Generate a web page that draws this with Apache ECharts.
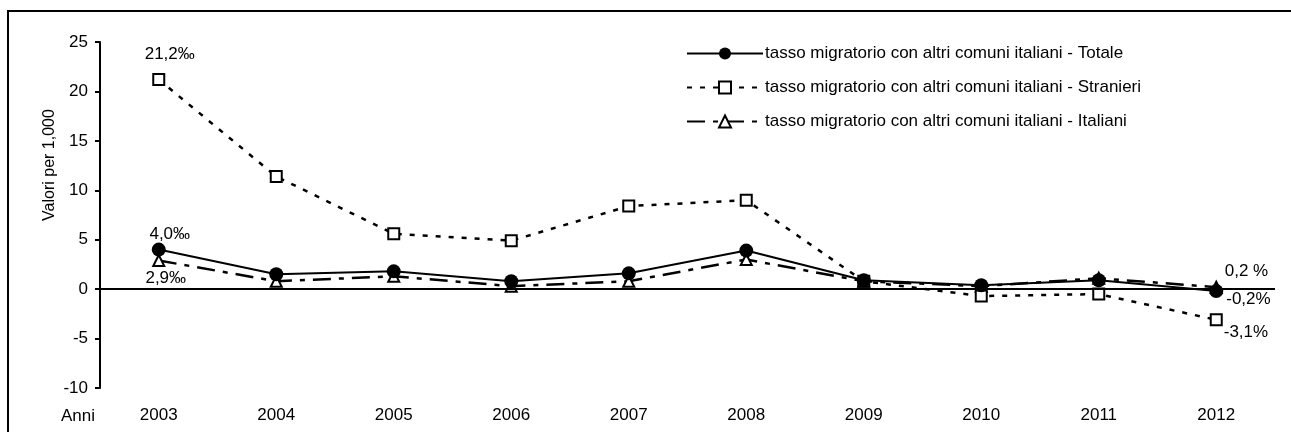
<!DOCTYPE html>
<html>
<head>
<meta charset="utf-8">
<script src="https://cdn.jsdelivr.net/npm/echarts@6/dist/echarts.min.js"></script>
<style>
html,body{margin:0;padding:0;background:#fff;}
#c{width:1291px;height:432px;}
</style>
</head>
<body>
<div id="c"></div>
<script>
// ---- data ----
const years = ['2003','2004','2005','2006','2007','2008','2009','2010','2011','2012'];
const totale    = [4.0, 1.5, 1.8, 0.8, 1.6, 3.9, 0.9, 0.4, 0.9, -0.2];
const stranieri = [21.2, 11.4, 5.6, 4.9, 8.4, 9.0, 0.8, -0.7, -0.5, -3.1];
const italiani  = [2.9, 0.8, 1.3, 0.3, 0.8, 3.0, 0.8, 0.3, 1.1, 0.2];
const seriesNames = [
  'tasso migratorio con altri comuni italiani - Totale',
  'tasso migratorio con altri comuni italiani - Stranieri',
  'tasso migratorio con altri comuni italiani - Italiani'
];
const totaleLabels    = ['4,0‰', '-0,2%'];
const stranieriLabels = ['21,2‰', '-3,1%'];
const italianiLabels  = ['2,9‰', '0,2 %'];
const yMin = -10, yMax = 25, yStep = 5;
const yAxisTitle = 'Valori per 1,000';
const xAxisTitle = 'Anni';

// ---- chart ----
const FONT = "'Liberation Sans', Arial, sans-serif";
const FS = 17;
const last = years.length - 1;

function withLabels(values, specs) {
  return values.map((v, i) => {
    const s = specs.find(p => p.i === i);
    if (!s) return v;
    return { value: v, label: Object.assign({ show: true, color: '#000', fontFamily: FONT, fontSize: FS, formatter: s.text }, s.opts) };
  });
}

const chart = echarts.init(document.getElementById('c'), null, { renderer: 'canvas' });
chart.setOption({
  backgroundColor: '#fff',
  animation: false,
  textStyle: { fontFamily: FONT, color: '#000' },
  grid: { left: 100, right: 16, top: 42, bottom: 44, containLabel: false },
  legend: {
    orient: 'vertical',
    left: 681, top: 40,
    itemWidth: 76, itemHeight: 15, itemGap: 17,
    textStyle: { fontFamily: FONT, fontSize: FS, color: '#000', padding: [0,0,0,-3] },
    data: seriesNames
  },
  xAxis: {
    type: 'category',
    data: years,
    boundaryGap: true,
    axisLine: { show: false, onZero: false },
    axisTick: { show: false },
    axisLabel: { color: '#000', fontFamily: FONT, fontSize: FS, margin: 19 }
  },
  yAxis: {
    type: 'value',
    min: yMin, max: yMax, interval: yStep,
    splitLine: { show: false },
    axisLine: { show: true, lineStyle: { color: '#000', width: 2 } },
    axisTick: { show: true, length: 5, lineStyle: { color: '#000', width: 2 } },
    axisLabel: { color: '#000', fontFamily: FONT, fontSize: FS, margin: 12 }
  },
  graphic: [
    { type: 'rect', silent: true, z: -1,
      shape: { x: 8, y: 11, width: 1300, height: 440 },
      style: { fill: null, stroke: '#000', lineWidth: 2 } },
    { type: 'text', left: 61, top: 408, silent: true,
      style: { text: xAxisTitle, font: FS + 'px ' + FONT, fill: '#000' } },
    { type: 'text', x: 50, y: 165, rotation: Math.PI / 2, silent: true,
      style: { text: yAxisTitle, font: '16px ' + FONT, fill: '#000', align: 'center', verticalAlign: 'middle' } }
  ],
  series: [
    {
      name: seriesNames[0], type: 'line', z: 4,
      data: withLabels(totale, [
        { i: 0, text: totaleLabels[0], opts: { position: 'top', distance: 0, offset: [11, 0] } },
        { i: last, text: totaleLabels[1], opts: { position: 'right', distance: 3, offset: [0, 8] } }
      ]),
      symbol: 'circle', symbolSize: 14,
      itemStyle: { color: '#000', borderColor: '#000', borderWidth: 0 },
      lineStyle: { color: '#000', width: 2, type: 'solid' }
    },
    {
      name: seriesNames[1], type: 'line', z: 3,
      data: withLabels(stranieri, [
        { i: 0, text: stranieriLabels[0], opts: { position: 'top', distance: 10, offset: [11, 0] } },
        { i: last, text: stranieriLabels[1], opts: { position: 'right', distance: 1, offset: [0, 13] } }
      ]),
      symbol: 'rect', symbolSize: 11,
      itemStyle: { color: '#fff', borderColor: '#000', borderWidth: 2 },
      lineStyle: { color: '#000', width: 2.5, type: [5, 8] }
    },
    {
      name: seriesNames[2], type: 'line', z: 2,
      data: withLabels(italiani, [
        { i: 0, text: italianiLabels[0], opts: { position: 'bottom', distance: 3, offset: [7, 0] } },
        { i: last, text: italianiLabels[1], opts: { position: 'right', distance: 2, offset: [0, -16] } }
      ]),
      symbol: 'triangle', symbolSize: 11,
      itemStyle: { color: '#fff', borderColor: '#000', borderWidth: 2 },
      lineStyle: { color: '#000', width: 2.5, type: [18, 8, 5, 8] },
      markLine: {
        silent: true, symbol: ['none', 'none'], animation: false,
        label: { show: false },
        lineStyle: { color: '#000', width: 2, type: 'solid' },
        emphasis: { disabled: true },
        data: [{ yAxis: 0 }]
      }
    }
  ]
});
</script>
</body>
</html>
